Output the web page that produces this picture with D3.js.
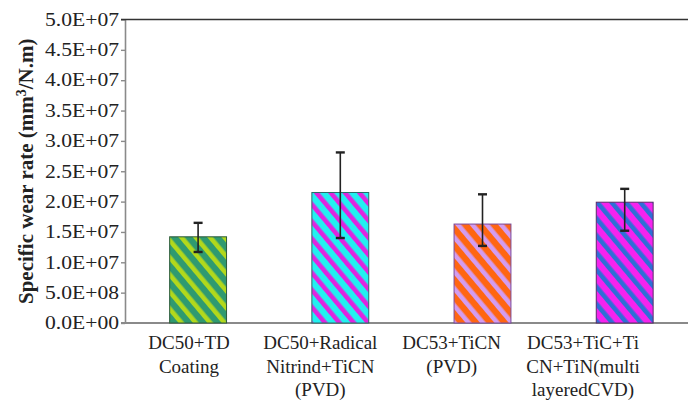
<!DOCTYPE html>
<html>
<head>
<meta charset="utf-8">
<script src="https://cdn.jsdelivr.net/npm/d3@7"></script>
<style>
body { margin: 0; background: #fff; overflow: hidden; }
svg text { font-family: "Liberation Serif", "Tinos", "Times New Roman", "DejaVu Serif", "Noto Serif", serif; }
</style>
</head>
<body>
<script>
var width = 688;
var height = 400;
var margin = {top: 19.5, right: -40, bottom: 77, left: 125};
var w = width - margin.left - margin.right;
var h = height - margin.top - margin.bottom;

// data
var categories = [
	["DC50+TD", "Coating"],
	["DC50+Radical", "Nitrind+TiCN", "(PVD)"],
	["DC53+TiCN", "(PVD)"],
	["DC53+TiC+Ti", "CN+TiN(multi", "layeredCVD)"]
];
var wearRate = [1.42e7, 2.15e7, 1.63e7, 1.99e7];
var errLow = [1.17e7, 1.40e7, 1.27e7, 1.52e7];
var errHigh = [1.65e7, 2.81e7, 2.12e7, 2.21e7];
var tickValues = [0, 5e6, 1e7, 1.5e7, 2e7, 2.5e7, 3e7, 3.5e7, 4e7, 4.5e7, 5e7];
var tickLabels = ["0.0E+00", "5.0E+08", "1.0E+07", "1.5E+07", "2.0E+07", "2.5E+07",
	"3.0E+07", "3.5E+07", "4.0E+07", "4.5E+07", "5.0E+07"];

var barColors = ["#2f9a70", "#22f0f0", "#ff6612", "#f523ee"];
var stripeColors = ["#b2d81c", "#e024df", "#d39cf0", "#2e6fd6"];
var edgeColors = ["#2a5a3a", "#2a6a6a", "#7a4a9a", "#5a2a6a"];

var svg = d3.select("body").append("svg")
	.attr("width", width)
	.attr("height", height);

var defs = svg.append("defs");
barColors.forEach(function(c, i) {
	var p = defs.append("pattern")
		.attr("id", "hatch" + i)
		.attr("patternUnits", "userSpaceOnUse")
		.attr("width", 11)
		.attr("height", 11)
		.attr("patternTransform", "rotate(-40)");
	p.append("rect").attr("width", 11).attr("height", 11).attr("fill", c);
	p.append("rect").attr("x", 0).attr("width", 4.6).attr("height", 11).attr("fill", stripeColors[i]);
});

var chart = svg.append("g")
	.attr("transform", "translate(" + margin.left + "," + margin.top + ")");

var x = d3.scaleBand()
	.domain(d3.range(categories.length))
	.range([2, 2 + 4 * 142.2])
	.paddingInner(0.6)
	.paddingOuter(0.3);

// the category labels sit a little left of the bars in the original
var xLabel = d3.scaleLinear()
	.domain([0, categories.length - 1])
	.range([64, 458]);

var y = d3.scaleLinear()
	.domain([0, 5e7])
	.range([h, 0]);

// y axis
var yAxis = d3.axisLeft(y)
	.tickValues(tickValues)
	.tickFormat(function(d, i) { return tickLabels[i]; })
	.tickSize(4)
	.tickSizeOuter(0);

var gy = chart.append("g").call(yAxis).attr("font-family", null);
gy.select(".domain").attr("stroke", "#8a8a8a").attr("stroke-width", 1.6);
gy.selectAll(".tick line").attr("stroke", "#8a8a8a").attr("stroke-width", 1.4);
gy.selectAll(".tick text")
	.attr("x", -5)
	.attr("transform", "scale(1.2,1)")
	.attr("fill", "#222")
	.style("font-size", "18px");

// top border and x axis line
chart.append("line")
	.attr("x1", -4).attr("x2", w)
	.attr("y1", y(5e7)).attr("y2", y(5e7))
	.attr("stroke", "#333").attr("stroke-width", 1.6);

chart.append("line")
	.attr("x1", -4).attr("x2", w)
	.attr("y1", y(0)).attr("y2", y(0))
	.attr("stroke", "#8a8a8a").attr("stroke-width", 2);

// bars
chart.selectAll(".bar")
	.data(wearRate)
	.enter().append("rect")
	.attr("class", "bar")
	.attr("x", function(d, i) { return x(i); })
	.attr("width", x.bandwidth())
	.attr("y", function(d) { return y(d); })
	.attr("height", function(d) { return y(0) - y(d); })
	.attr("fill", function(d, i) { return "url(#hatch" + i + ")"; })
	.attr("stroke", function(d, i) { return edgeColors[i]; })
	.attr("stroke-width", 1);

// error bars
var err = chart.selectAll(".err")
	.data(wearRate)
	.enter().append("g")
	.attr("class", "err")
	.attr("stroke", "#222")
	.attr("stroke-width", 1.6);

err.append("line")
	.attr("x1", function(d, i) { return x(i) + x.bandwidth() / 2; })
	.attr("x2", function(d, i) { return x(i) + x.bandwidth() / 2; })
	.attr("y1", function(d, i) { return y(errHigh[i]); })
	.attr("y2", function(d, i) { return y(errLow[i]); });

[errHigh, errLow].forEach(function(arr) {
	err.append("line")
		.attr("x1", function(d, i) { return x(i) + x.bandwidth() / 2 - 4.5; })
		.attr("x2", function(d, i) { return x(i) + x.bandwidth() / 2 + 4.5; })
		.attr("y1", function(d, i) { return y(arr[i]); })
		.attr("y2", function(d, i) { return y(arr[i]); })
		.attr("stroke-width", 2.4);
});

// x labels
var xl = chart.selectAll(".xlab")
	.data(categories)
	.enter().append("text")
	.attr("class", "xlab")
	.attr("text-anchor", "middle")
	.attr("fill", "#222")
	.style("font-size", "19px");

xl.selectAll("tspan")
	.data(function(d, i) { return d.map(function(s) { return {s: s, i: i}; }); })
	.enter().append("tspan")
	.attr("x", function(d) { return xLabel(d.i); })
	.attr("y", function(d, j) { return h + 26 + j * 23.5; })
	.text(function(d) { return d.s; });

// y title
var yt = svg.append("text")
	.attr("transform", "translate(33," + (margin.top + h / 2) + ") rotate(-90)")
	.attr("text-anchor", "middle")
	.attr("fill", "#222")
	.style("font-size", "21px")
	.style("font-weight", "bold");
yt.append("tspan").text("Specific wear rate (mm");
yt.append("tspan").attr("dy", -7).style("font-size", "14px").text("3");
yt.append("tspan").attr("dy", 7).text("/N.m)");
</script>
</body>
</html>
